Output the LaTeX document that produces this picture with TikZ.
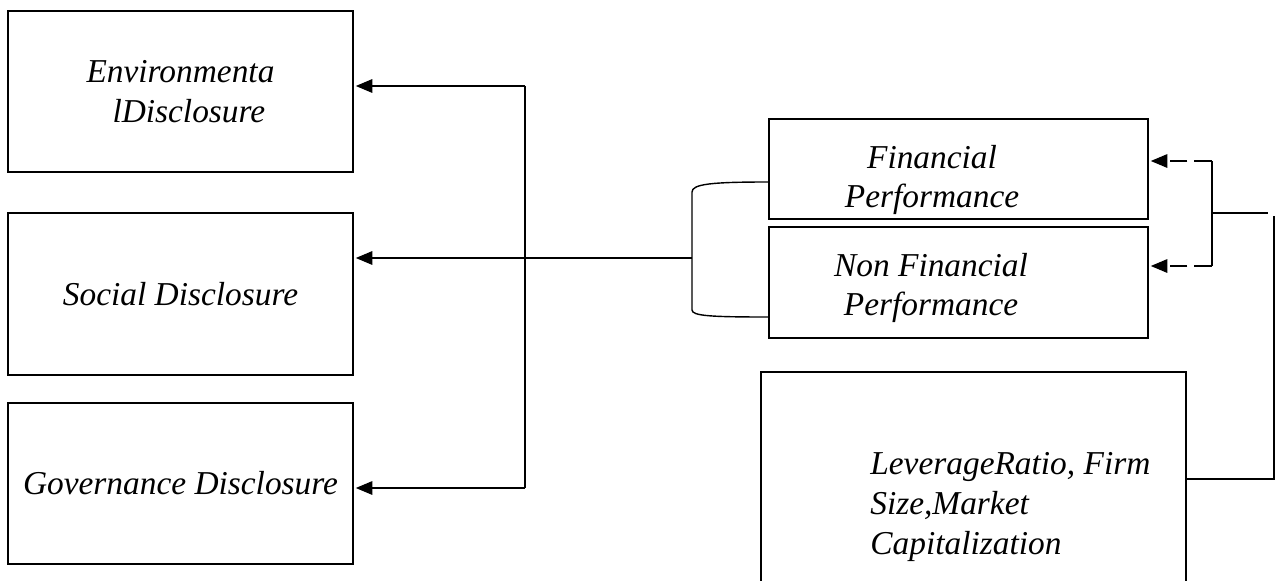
\documentclass[tikz,border=0pt]{standalone}
\usepackage{fontspec}
\setmainfont{Liberation Serif}
\usetikzlibrary{arrows.meta,positioning,calc}

\begin{document}
\begin{tikzpicture}[x=0.02cm,y=-0.02cm,
    every node/.style={font=\itshape\fontsize{19}{22.5}\selectfont},
    box/.style={draw,line width=1.2pt,inner sep=0pt,align=center},
    link/.style={line width=0.8pt},
    tip/.style={-{Triangle[length=0.33cm,width=0.27cm]},shorten >=1pt},
    dashlink/.style={link,dash pattern=on 10pt off 4pt}]
  \useasboundingbox (0,0) rectangle (1277,581);
  % cut-off heading
  \node[font=\bfseries\fontsize{19}{22}\selectfont,anchor=base,inner sep=0pt] (headg) at (744,-7) {g};
  % ESG disclosure boxes
  \node[box,minimum width=6.9cm,minimum height=3.22cm] (env) at (180.5,91.5)
    {Environmenta\\\hspace*{0.5em}lDisclosure};
  \node[box,minimum width=6.9cm,minimum height=3.24cm] (social) at (180.5,294) {Social Disclosure};
  \node[box,minimum width=6.9cm,minimum height=3.22cm] (gov) at (180.5,483.5) {Governance Disclosure};
  % performance boxes
  \node[box,minimum width=7.58cm,minimum height=2cm] (fin) at (958.5,169) {};
  \node[align=center,inner sep=0pt] (fintxt) at (932,180) {Financial\\Performance};
  \node[box,minimum width=7.58cm,minimum height=2.22cm] (nonfin) at (958.5,282.5) {};
  \node[align=center,inner sep=0pt] (nonfintxt) at (931,288) {Non Financial\\Performance};
  % control variables
  \node[box,minimum width=8.5cm,minimum height=5.76cm] (ctrl) at (973.5,516) {};
  \node[align=left,anchor=west,inner sep=0pt] (ctrltxt) at (870,507)
    {LeverageRatio, Firm\\Size,Market\\Capitalization};
  % left fork
  \coordinate (jtop) at (525,86);
  \coordinate (jmid) at (525,258);
  \coordinate (jbot) at (525,488);
  \coordinate (brk) at (692,258);
  \draw[link] (jtop) -- (jbot);
  \draw[link,tip] (jtop) -- (env.east |- jtop);
  \draw[link,tip] (jmid) -- (social.east |- jmid);
  \draw[link,tip] (jbot) -- (gov.east |- jbot);
  \draw[link] (brk) -- (jmid);
  % bracket
  \draw[link] (fin.west |- 0,182) .. controls (712,182) and (692,184) .. (692,192)
    -- (692,310) .. controls (692,316) and (712,317) .. (nonfin.west |- 0,317);
  % right side
  \coordinate (dtop) at (1212,161);
  \coordinate (dmid) at (1212,213);
  \coordinate (dbot) at (1212,266);
  \coordinate (rtop) at (1268,213);
  \coordinate (rbot) at (1274,479);
  \draw[dashlink,tip] (dtop) -- (fin.east |- dtop);
  \draw[dashlink,tip] (dbot) -- (nonfin.east |- dbot);
  \draw[link] (dtop) -- (dbot);
  \draw[link] (dmid) -- (rtop);
  \draw[link] (1274,216) -- (rbot) -- (ctrl.east |- rbot);
\end{tikzpicture}
\end{document}
